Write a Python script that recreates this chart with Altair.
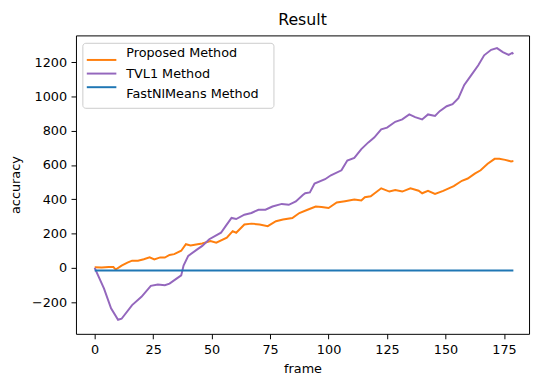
import altair as alt
import pandas as pd

series_names = ["Proposed Method", "TVL1 Method", "FastNlMeans Method"]
series_colors = ["#ff7f0e", "#9467bd", "#1f77b4"]

proposed_frames = [0, 3, 6, 8, 9, 11.5, 14, 16, 18.5, 21, 23.5, 25.5, 28, 30, 32, 34, 37, 39, 41, 44, 46,
                   49.5, 52, 56.5, 59, 60.5, 64, 67, 70.5, 74, 77.5, 80.5, 84.5, 87.5, 91, 94.5, 97, 100,
                   103.5, 107, 111, 114, 115.5, 118, 122.5, 126, 128.5, 131.5, 135, 138.5, 140, 142.5,
                   145.5, 149, 153.5, 157, 159.5, 162.5, 165, 168, 171, 173, 175.5, 178, 179]
proposed_values = [4, 2, 5, 5, -10, 13, 30, 42, 42, 50, 61, 49, 61, 60, 75, 80, 100, 138, 131, 138, 142,
                   157, 147, 176, 214, 205, 253, 258, 253, 243, 272, 282, 291, 320, 339, 358, 355, 349,
                   381, 389, 399, 393, 412, 418, 464, 445, 454, 445, 464, 450, 435, 449,
                   431, 449, 477, 508, 521, 550, 569, 607, 636, 636, 630, 621, 623]

tvl1_frames = [0, 4, 7, 10, 11.5, 16, 20, 24, 27, 30, 32, 35, 37, 38, 40, 44, 46, 49, 54, 56, 58.5, 60.5,
               64, 67, 70, 73, 76, 80, 83, 86, 89, 90, 92, 94, 98.5, 101, 105.5, 108, 111, 114, 117,
               119.5, 122.5, 125, 128.5, 131.5, 134.5, 137, 140, 142.5, 145.5, 147.5, 150.5, 153, 155.5,
               158, 161, 164, 166.5, 169.5, 172, 174.5, 177, 178.5, 179]
tvl1_values = [0, -121, -236, -303, -297, -217, -169, -105, -97, -101, -92, -63, -44, 13, 70, 109, 128,
               167, 205, 243, 291, 285, 310, 320, 339, 339, 358, 373, 368, 387, 425, 435, 440, 492, 517,
               540, 569, 626, 641, 693, 732, 760, 808, 818, 852, 866, 895, 879, 866, 895, 886, 914, 943,
               955, 990, 1067, 1124, 1182, 1240, 1272, 1282, 1259, 1243, 1254, 1248]

fast_frames = [0, 179]
fast_values = [-15, -15]

x_ticks = [0, 25, 50, 75, 100, 125, 150, 175]
y_ticks = [-200, 0, 200, 400, 600, 800, 1000, 1200]

rows = []
for order, (name, frs, vals) in enumerate(zip(series_names,
                                              [proposed_frames, tvl1_frames, fast_frames],
                                              [proposed_values, tvl1_values, fast_values])):
    for f, v in zip(frs, vals):
        rows.append({"frame": f, "accuracy": v, "series": name, "order": order})
df = pd.DataFrame(rows)
legend_df = pd.DataFrame({"series": series_names})

FONT = "DejaVu Sans"
color_scale = alt.Scale(domain=series_names, range=series_colors)

lines = alt.Chart(df).mark_line(strokeWidth=2).encode(
    x=alt.X("frame:Q",
            scale=alt.Scale(domain=[-8, 185.7], nice=False, zero=False),
            axis=alt.Axis(values=x_ticks, title="frame", format="d")),
    y=alt.Y("accuracy:Q",
            scale=alt.Scale(domain=[-385, 1356], nice=False, zero=False),
            axis=alt.Axis(values=y_ticks, title="accuracy", format="d")),
    color=alt.Color("series:N", scale=color_scale, sort=series_names, legend=None),
    detail="order:O",
)

# matplotlib-style legend (upper left, framed)
legend_box = alt.Chart(pd.DataFrame({"box": [0]})).mark_rect(
    fill="white", fillOpacity=0.8, stroke="#cccccc", strokeWidth=1, cornerRadius=3
).encode(
    x=alt.value(7), x2=alt.value(201), y=alt.value(8), y2=alt.value(74)
)

legend_y = alt.Y("series:N", scale=alt.Scale(domain=series_names, range=[18, 59.5], padding=0),
                 axis=None)

legend_lines = alt.Chart(legend_df).mark_rule(strokeWidth=2).encode(
    x=alt.value(11), x2=alt.value(41), y=legend_y,
    color=alt.Color("series:N", scale=color_scale, legend=None),
)

legend_text = alt.Chart(legend_df).mark_text(
    align="left", baseline="middle", font=FONT, fontSize=13, color="black"
).encode(
    x=alt.value(51), y=legend_y, text="series:N"
)

chart = alt.layer(lines, legend_box, legend_lines, legend_text).resolve_scale(
    y="independent"
).properties(
    width=460,
    height=303,
    title=alt.TitleParams("Result", fontSize=16, font=FONT, fontWeight="normal",
                          offset=8, anchor="middle", color="black"),
    autosize=alt.AutoSizeParams(type="none"),
    padding={"left": 69, "top": 25, "right": 3, "bottom": 42},
).configure_view(
    stroke="black", strokeWidth=1
).configure_axis(
    domain=False, grid=False,
    tickColor="black", tickSize=5, tickWidth=1,
    labelFont=FONT, labelFontSize=13, labelColor="black", labelPadding=4.5,
    titleFont=FONT, titleFontSize=13, titleColor="black", titleFontWeight="normal",
).configure_axisY(titlePadding=9.5).configure_axisX(titlePadding=7)

chart.save("out.html", embed_options={"renderer": "svg", "actions": False})
